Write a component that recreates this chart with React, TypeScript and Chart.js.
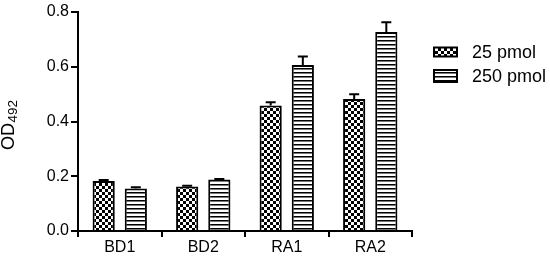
import React, { useEffect, useRef } from "react";
import { Chart, registerables } from "chart.js";

Chart.register(...registerables);

const categories = ["BD1", "BD2", "RA1", "RA2"];
const seriesLabels = ["25 pmol", "250 pmol"];
const values25 = [0.183, 0.163, 0.458, 0.482];
const values250 = [0.155, 0.188, 0.606, 0.727];
const errors25 = [0.003, 0.002, 0.012, 0.018];
const errors250 = [0.005, 0.002, 0.031, 0.036];
const yTicks = [0, 0.2, 0.4, 0.6, 0.8];
const axisTitleMain = "OD";
const axisTitleSub = "492";

const FONT = "'Liberation Sans', Arial, Helvetica, sans-serif";

function makeChecker(): CanvasPattern | string {
  const c = document.createElement("canvas");
  c.width = 6;
  c.height = 6;
  const g = c.getContext("2d");
  if (!g) return "#000";
  g.fillStyle = "#fff";
  g.fillRect(0, 0, 6, 6);
  g.fillStyle = "#000";
  g.fillRect(0, 0, 3, 3);
  g.fillRect(3, 3, 3, 3);
  return g.createPattern(c, "repeat") as CanvasPattern;
}

function makeStripes(): CanvasPattern | string {
  const c = document.createElement("canvas");
  c.width = 4;
  c.height = 4;
  const g = c.getContext("2d");
  if (!g) return "#000";
  g.fillStyle = "#fff";
  g.fillRect(0, 0, 4, 4);
  g.fillStyle = "#000";
  g.fillRect(0, 0, 4, 1);
  g.fillStyle = "#777";
  g.fillRect(0, 1, 4, 1);
  return g.createPattern(c, "repeat") as CanvasPattern;
}

const errorBarPlugin = {
  id: "errorBars",
  afterDatasetsDraw(chart: any) {
    const ctx = chart.ctx;
    const y = chart.scales.y;
    const errs = [errors25, errors250];
    ctx.save();
    ctx.strokeStyle = "#000";
    ctx.lineWidth = 2;
    chart.data.datasets.forEach((ds: any, di: number) => {
      const meta = chart.getDatasetMeta(di);
      meta.data.forEach((bar: any, i: number) => {
        const v = ds.data[i];
        const e = errs[di][i];
        const x = bar.x;
        const y0 = y.getPixelForValue(v);
        const y1 = y.getPixelForValue(v + e);
        ctx.beginPath();
        ctx.moveTo(x, y0);
        ctx.lineTo(x, y1);
        ctx.moveTo(x - 5, y1);
        ctx.lineTo(x + 5, y1);
        ctx.stroke();
      });
    });
    ctx.restore();
  },
};

const decorPlugin = {
  id: "decor",
  afterDraw(chart: any) {
    const ctx = chart.ctx;
    ctx.save();
    // y-axis title with subscript
    ctx.translate(14, 150);
    ctx.rotate(-Math.PI / 2);
    ctx.fillStyle = "#000";
    ctx.textBaseline = "alphabetic";
    ctx.textAlign = "left";
    ctx.font = `18px ${FONT}`;
    ctx.fillText(axisTitleMain, 0, 0);
    const w = ctx.measureText(axisTitleMain).width;
    ctx.font = `13.5px ${FONT}`;
    ctx.fillText(axisTitleSub, w + 0.5, 3);
    ctx.restore();

    // legend
    ctx.save();
    const centers = [52, 76];
    chart.data.datasets.forEach((ds: any, i: number) => {
      const cy = centers[i];
      const bx = 434;
      const bw = 23;
      const bh = i === 0 ? 9 : 12;
      ctx.fillStyle = ds.backgroundColor;
      ctx.fillRect(bx, cy - bh / 2, bw, bh);
      ctx.strokeStyle = "#000";
      ctx.lineWidth = 2;
      ctx.strokeRect(bx, cy - bh / 2, bw, bh);
      ctx.fillStyle = "#000";
      ctx.font = `18px ${FONT}`;
      ctx.textBaseline = "middle";
      ctx.textAlign = "left";
      ctx.fillText(ds.label, 472, cy + 1);
    });
    ctx.restore();
  },
};

export default function App() {
  const ref = useRef<HTMLCanvasElement | null>(null);
  useEffect(() => {
    if (!ref.current) return;
    const checker = makeChecker();
    const stripes = makeStripes();
    const chart = new Chart(ref.current, {
      type: "bar",
      data: {
        labels: categories,
        datasets: [
          {
            label: seriesLabels[0],
            data: values25,
            backgroundColor: checker as any,
            borderColor: "#000",
            borderWidth: 2,
            categoryPercentage: 0.77,
            barPercentage: 0.69,
          },
          {
            label: seriesLabels[1],
            data: values250,
            backgroundColor: stripes as any,
            borderColor: "#000",
            borderWidth: 2,
            categoryPercentage: 0.77,
            barPercentage: 0.69,
          },
        ],
      },
      options: {
        animation: false,
        responsive: false,
        maintainAspectRatio: false,
        layout: { padding: { top: 12, right: 138, bottom: 0, left: 0 } },
        plugins: {
          legend: { display: false },
          tooltip: { enabled: false },
        },
        scales: {
          x: {
            grid: {
              display: true,
              drawOnChartArea: false,
              drawTicks: true,
              tickLength: 6,
              tickColor: "#000",
              lineWidth: 2,
            },
            border: { color: "#000", width: 2 },
            ticks: {
              color: "#000",
              font: { family: FONT, size: 16, lineHeight: 1 },
              padding: 3,
            },
            afterFit: (s: any) => {
              s.height = 26;
            },
          },
          y: {
            min: 0,
            max: 0.8,
            afterBuildTicks: (s: any) => {
              s.ticks = yTicks.map((v) => ({ value: v }));
            },
            grid: {
              display: true,
              drawOnChartArea: false,
              drawTicks: true,
              tickLength: 7,
              tickColor: "#000",
              lineWidth: 2,
            },
            border: { color: "#000", width: 2 },
            ticks: {
              color: "#000",
              font: { family: FONT, size: 16 },
              padding: 2,
              callback: (v: any) => Number(v).toFixed(1),
            },
            afterFit: (s: any) => {
              s.width = 78;
            },
          },
        },
      },
      plugins: [errorBarPlugin, decorPlugin],
    });
    return () => chart.destroy();
  }, []);
  return (
    <div style={{ position: "fixed", left: 0, top: 0, width: 550, height: 257, background: "#fff" }}>
      <canvas ref={ref} width={550} height={257} style={{ display: "block" }} />
    </div>
  );
}
